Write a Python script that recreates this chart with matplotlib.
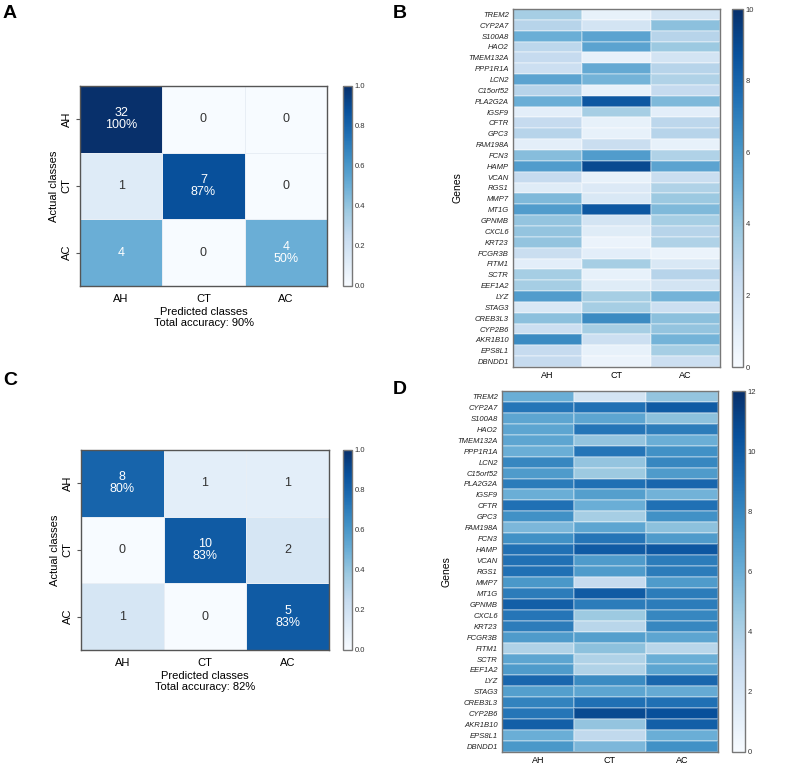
import numpy as np
import matplotlib
matplotlib.use('Agg')
import matplotlib.pyplot as plt

plt.rcParams['font.family'] = ['Liberation Sans', 'DejaVu Sans']

classes = ['AH', 'CT', 'AC']

# confusion matrices (rows: actual, cols: predicted)
cm_a = np.array([[32, 0, 0],
                 [1, 7, 0],
                 [4, 0, 4]])
acc_a = 90
cm_c = np.array([[8, 1, 1],
                 [0, 10, 2],
                 [1, 0, 5]])
acc_c = 82

genes = ['TREM2', 'CYP2A7', 'S100A8', 'HAO2', 'TMEM132A', 'PPP1R1A', 'LCN2',
         'C15orf52', 'PLA2G2A', 'IGSF9', 'CFTR', 'GPC3', 'FAM198A', 'FCN3',
         'HAMP', 'VCAN', 'RGS1', 'MMP7', 'MT1G', 'GPNMB', 'CXCL6', 'KRT23',
         'FCGR3B', 'FITM1', 'SCTR', 'EEF1A2', 'LYZ', 'STAG3', 'CREB3L3',
         'CYP2B6', 'AKR1B10', 'EPS8L1', 'DBNDD1']

# expression per class, panel B
expr_b_ah = [3.5, 3.0, 5.0, 2.8, 2.5, 2.2, 5.5, 3.0, 5.0, 1.0, 2.5, 3.0, 1.0, 4.3,
             5.8, 2.5, 1.2, 4.5, 5.8, 4.0, 4.0, 4.0, 2.3, 1.0, 3.5, 3.5, 5.8, 1.5,
             4.2, 2.2, 6.5, 2.5, 2.5]
expr_b_ct = [0.8, 1.8, 5.5, 5.5, 0.8, 5.2, 4.8, 0.8, 8.5, 3.5, 0.8, 0.8, 2.3, 5.8,
             9.0, 0.8, 1.4, 1.5, 8.5, 1.8, 1.2, 0.6, 1.0, 3.5, 0.8, 1.2, 3.5, 3.5,
             6.5, 3.5, 2.2, 0.8, 0.6]
expr_b_ac = [1.8, 4.2, 3.0, 3.8, 1.8, 3.0, 3.2, 2.5, 4.5, 1.0, 2.8, 3.0, 0.8, 3.2,
             5.5, 2.3, 3.2, 3.8, 4.5, 3.5, 3.0, 3.2, 0.6, 1.5, 3.0, 1.8, 4.8, 2.2,
             4.2, 4.0, 4.8, 3.5, 2.2]

# expression per class, panel D
expr_d_ah = [6.0, 8.8, 6.5, 6.5, 6.5, 6.0, 8.0, 7.0, 8.5, 6.0, 9.0, 7.5, 5.5, 7.5,
             9.0, 9.0, 9.0, 7.2, 8.5, 9.8, 8.8, 8.5, 7.0, 3.8, 6.5, 7.0, 9.5, 6.8,
             8.2, 8.8, 9.8, 6.0, 7.2]
expr_d_ct = [2.2, 9.0, 6.5, 8.8, 4.8, 8.8, 4.8, 4.5, 9.0, 6.8, 6.0, 4.2, 6.5, 8.8,
             10.0, 7.0, 7.0, 3.0, 10.0, 8.5, 4.5, 3.5, 6.8, 5.0, 3.8, 3.8, 7.8, 6.5,
             9.0, 10.8, 4.8, 3.2, 5.5]
expr_d_ac = [4.8, 10.0, 5.0, 8.5, 6.0, 7.5, 8.0, 7.0, 9.5, 5.8, 9.0, 7.5, 5.0, 7.0,
             10.2, 8.5, 8.5, 7.0, 8.5, 8.5, 8.0, 8.0, 6.5, 3.5, 6.0, 6.5, 9.5, 6.2,
             9.0, 10.5, 9.8, 6.0, 7.5]

W, H = 787, 767
fig = plt.figure(figsize=(W / 100, H / 100), dpi=100)


def box(x0, y0, x1, y1):
    # pixel box -> figure fraction
    return [x0 / W, 1 - y1 / H, (x1 - x0) / W, (y1 - y0) / H]


def style_cbar(cax, ticks, fmt):
    cax.set_yticks(ticks)
    cax.set_yticklabels([fmt % t for t in ticks], fontsize=5.5, color='#333333')
    cax.tick_params(length=0, pad=2)
    for s in cax.spines.values():
        s.set_color('#777777')
        s.set_linewidth(1.0)


def confusion(ax, cax, cm, acc):
    norm = cm / cm.sum(axis=1, keepdims=True)
    n = len(classes)
    x = np.arange(n + 1) - 0.5
    mesh = ax.pcolormesh(x, x, norm, cmap='Blues', vmin=0, vmax=1,
                         edgecolor='#e8eef5', linewidth=0.6)
    ax.set_xlim(-0.5, n - 0.5)
    ax.set_ylim(n - 0.5, -0.5)
    for i in range(n):
        for j in range(n):
            col = 'white' if norm[i, j] >= 0.5 else '#333333'
            if i == j:
                txt = '%d\n%d%%' % (cm[i, j], int(norm[i, j] * 100))
            else:
                txt = '%d' % cm[i, j]
            ax.text(j, i, txt, ha='center', va='center', fontsize=9,
                    color=col, linespacing=1.0)
    ax.set_xticks(range(n))
    ax.set_xticklabels(classes, fontsize=8)
    ax.set_yticks(range(n))
    ax.set_yticklabels(classes, fontsize=8, rotation=90, va='center')
    ax.tick_params(axis='x', length=0, pad=6)
    ax.tick_params(axis='y', length=3, width=0.8, color='#555555', pad=3)
    ax.set_xlabel('Predicted classes\nTotal accuracy: %d%%' % acc, fontsize=8,
                  labelpad=2, linespacing=1.1)
    ax.set_ylabel('Actual classes', fontsize=8, labelpad=2)
    for s in ax.spines.values():
        s.set_color('#555555')
        s.set_linewidth(1.0)
    fig.colorbar(mesh, cax=cax)
    style_cbar(cax, [0, 0.2, 0.4, 0.6, 0.8, 1.0], '%.1f')


def gene_map(ax, cax, ah, ct, ac, vmax, ticks):
    data = np.column_stack([ah, ct, ac])
    mesh = ax.pcolormesh(np.arange(4), np.arange(len(genes) + 1), data,
                         cmap='Blues', vmin=0, vmax=vmax,
                         edgecolor=(1, 1, 1, 0.25), linewidth=0.3)
    ax.set_ylim(len(genes), 0)
    ax.set_xticks(np.arange(3) + 0.5)
    ax.set_xticklabels(classes, fontsize=6.5)
    ax.set_yticks(np.arange(len(genes)) + 0.5)
    ax.set_yticklabels(genes, fontsize=5.5, style='italic', color='#222222')
    ax.tick_params(length=0, pad=3)
    ax.set_ylabel('Genes', fontsize=7.5, labelpad=4)
    for s in ax.spines.values():
        s.set_color('#777777')
        s.set_linewidth(1.0)
    fig.colorbar(mesh, cax=cax)
    style_cbar(cax, ticks, '%d')


ax_a = fig.add_axes(box(80, 86, 327, 286))
cax_a = fig.add_axes(box(343, 86, 352, 286))
confusion(ax_a, cax_a, cm_a, acc_a)

ax_c = fig.add_axes(box(81, 450, 329, 650))
cax_c = fig.add_axes(box(343, 450, 352, 650))
confusion(ax_c, cax_c, cm_c, acc_c)

ax_b = fig.add_axes(box(513, 9, 720, 367))
cax_b = fig.add_axes(box(732, 9, 743, 367))
gene_map(ax_b, cax_b, expr_b_ah, expr_b_ct, expr_b_ac, 10, [0, 2, 4, 6, 8, 10])

ax_d = fig.add_axes(box(502, 391, 718, 752))
cax_d = fig.add_axes(box(732, 391, 745, 752))
gene_map(ax_d, cax_d, expr_d_ah, expr_d_ct, expr_d_ac, 12, [0, 2, 4, 6, 8, 10, 12])

for lab, px, py in [('A', 3, 5), ('B', 393, 5), ('C', 3, 372), ('D', 393, 381)]:
    fig.text(px / W, 1 - py / H, lab, fontsize=14, fontweight='bold',
             ha='left', va='top')

fig.savefig('out.png', dpi=100)
